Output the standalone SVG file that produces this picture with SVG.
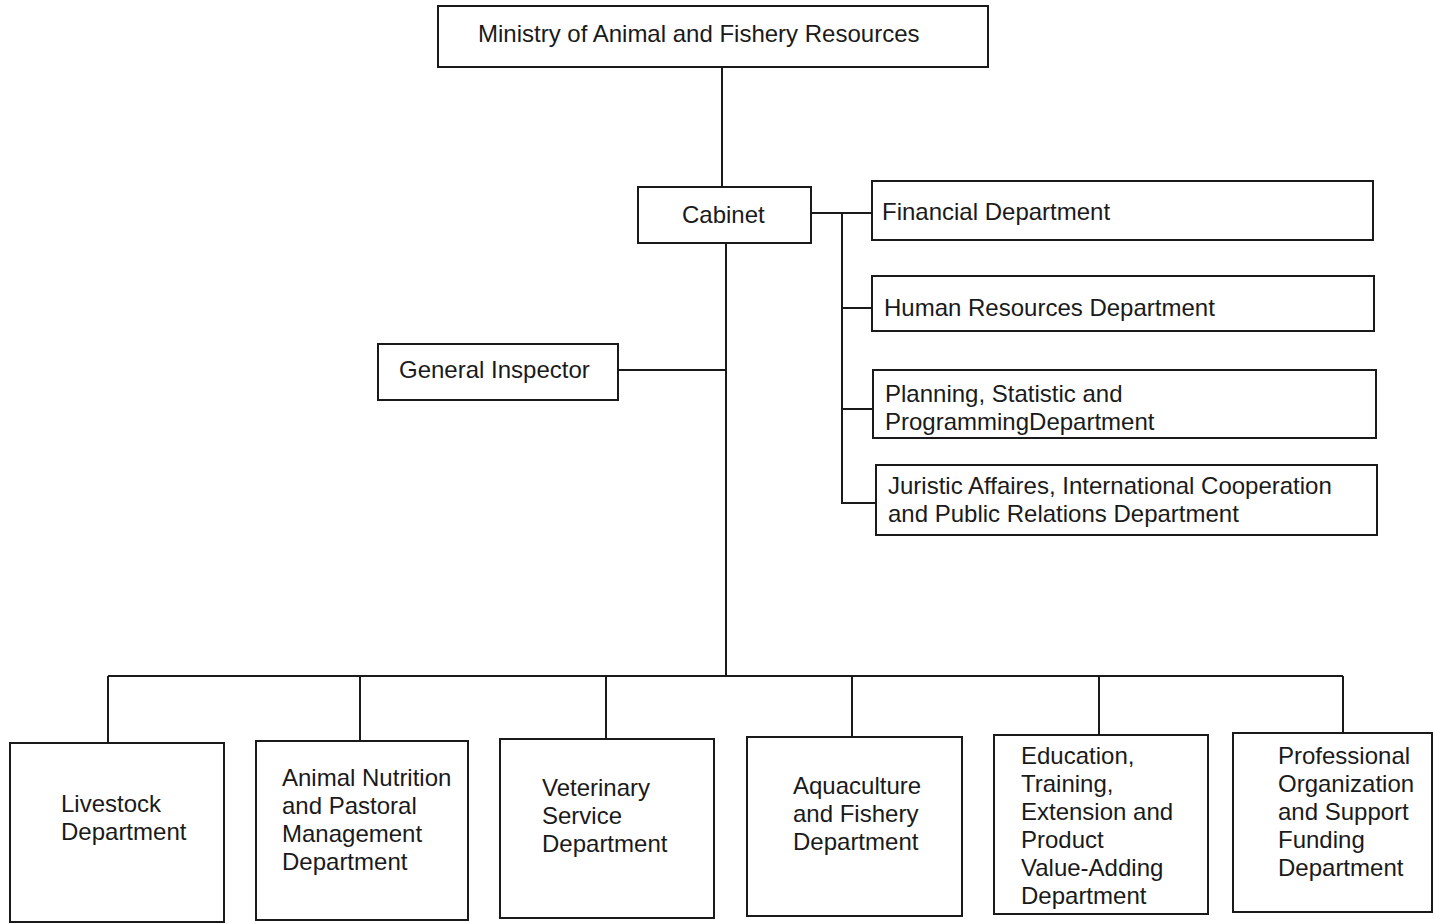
<svg xmlns="http://www.w3.org/2000/svg" width="1435" height="924" viewBox="0 0 1435 924">
<style>
.box{fill:#fff;stroke:#1a1a1a;stroke-width:2}
.ln{fill:none;stroke:#1a1a1a;stroke-width:2}
text{font-family:"Liberation Sans",Arial,sans-serif;font-size:24px;fill:#1a1a1a}
</style>
<rect width="1435" height="924" fill="#fff"/>
<g id="connectors">
<path class="ln" d="M722 67V187"/>
<path class="ln" d="M811 213H872M842 213V503H876M842 308H872M842 409H873"/>
<path class="ln" d="M726 243V676M618 370H726"/>
<path class="ln" d="M108 676H1343M108 676V743M360 676V741M606 676V739M852 676V737M1099 676V735M1343 676V733"/>
</g>
<g id="ministry"><rect class="box" x="438" y="6" width="550" height="61"/><text x="478" y="42">Ministry of Animal and Fishery Resources</text></g>
<g id="cabinet"><rect class="box" x="638" y="187" width="173" height="56"/><text x="682" y="223">Cabinet</text></g>
<g id="financial"><rect class="box" x="872" y="181" width="501" height="59"/><text x="882" y="220">Financial Department</text></g>
<g id="hr"><rect class="box" x="872" y="276" width="502" height="55"/><text x="884" y="316">Human Resources Department</text></g>
<g id="planning"><rect class="box" x="873" y="370" width="503" height="68"/><text x="885" y="402">Planning, Statistic and</text><text x="885" y="430">ProgrammingDepartment</text></g>
<g id="juristic"><rect class="box" x="876" y="465" width="501" height="70"/><text x="888" y="494">Juristic Affaires, International Cooperation</text><text x="888" y="522">and Public Relations Department</text></g>
<g id="inspector"><rect class="box" x="378" y="344" width="240" height="56"/><text x="399" y="378">General Inspector</text></g>
<g id="livestock"><rect class="box" x="10" y="743" width="214" height="179"/><text x="61" y="812">Livestock</text><text x="61" y="840">Department</text></g>
<g id="nutrition"><rect class="box" x="256" y="741" width="212" height="179"/><text x="282" y="786">Animal Nutrition</text><text x="282" y="814">and Pastoral</text><text x="282" y="842">Management</text><text x="282" y="870">Department</text></g>
<g id="veterinary"><rect class="box" x="500" y="739" width="214" height="179"/><text x="542" y="796">Veterinary</text><text x="542" y="824">Service</text><text x="542" y="852">Department</text></g>
<g id="aquaculture"><rect class="box" x="747" y="737" width="215" height="179"/><text x="793" y="794">Aquaculture</text><text x="793" y="822">and Fishery</text><text x="793" y="850">Department</text></g>
<g id="education"><rect class="box" x="994" y="735" width="214" height="179"/><text x="1021" y="764">Education,</text><text x="1021" y="792">Training,</text><text x="1021" y="820">Extension and</text><text x="1021" y="848">Product</text><text x="1021" y="876">Value-Adding</text><text x="1021" y="904">Department</text></g>
<g id="professional"><rect class="box" x="1233" y="733" width="199" height="179"/><text x="1278" y="764">Professional</text><text x="1278" y="792">Organization</text><text x="1278" y="820">and Support</text><text x="1278" y="848">Funding</text><text x="1278" y="876">Department</text></g>
</svg>
